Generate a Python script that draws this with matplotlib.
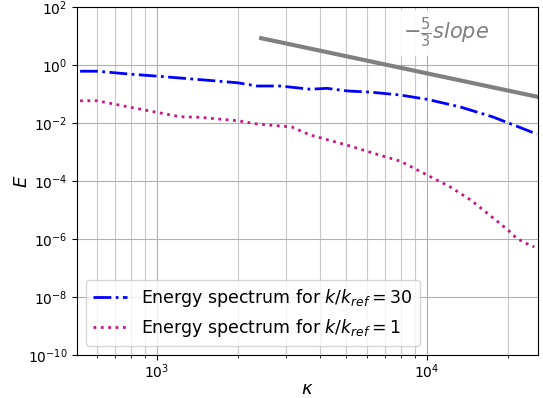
import matplotlib
matplotlib.use("Agg")
import matplotlib.pyplot as plt
import numpy as np

# wavenumbers
kappa_30 = [519, 600, 794, 1000, 1443, 1995, 2344, 2855, 3690, 4266, 5058,
            6152, 6988, 7943, 10000, 13240, 17550, 19940, 25520]
log_E_30 = [-0.21, -0.21, -0.31, -0.38, -0.50, -0.61, -0.72, -0.72, -0.83, -0.80, -0.89,
            -0.93, -0.98, -1.03, -1.18, -1.44, -1.79, -1.99, -2.38]

kappa_1 = [519, 600, 794, 1000, 1218, 1443, 1995, 2344, 2855, 3150, 3690, 5058,
           6988, 7943, 10000, 12170, 14540, 17550, 19940, 21500, 23300, 24950]
log_E_1 = [-1.23, -1.23, -1.45, -1.63, -1.78, -1.80, -1.92, -2.03, -2.10, -2.13, -2.41, -2.76,
           -3.16, -3.31, -3.79, -4.20, -4.66, -5.27, -5.69, -5.98, -6.15, -6.27]

slope_x = [2430, 25760]
slope_y = [8.5, 0.08]

E_30 = 10 ** np.array(log_E_30)
E_1 = 10 ** np.array(log_E_1)

fig, ax = plt.subplots(figsize=(5.43, 3.98), dpi=100)

ax.loglog(kappa_30, E_30, "b-.", lw=2, label=r"Energy spectrum for $k/k_{ref}=30$")
ax.loglog(kappa_1, E_1, ":", color="mediumvioletred", lw=2,
          label=r"Energy spectrum for $k/k_{ref}=1$")
ax.loglog(slope_x, slope_y, color="gray", lw=3)

ax.text(0.80, 0.975, r"$-\frac{5}{3} slope$", transform=ax.transAxes, fontsize=15,
        color="gray", ha="center", va="top",
        bbox=dict(facecolor="white", edgecolor="none", alpha=0.9))

ax.set_xlim(506, 25760)
ax.set_ylim(1e-10, 1e2)
ax.set_yticks([10.0 ** e for e in range(-10, 3, 2)])
ax.grid(True, which="major", color="#b0b0b0")
ax.grid(True, which="minor", axis="x", color="#c8c8c8")
ax.tick_params(axis="x", which="major", pad=2)
ax.set_xlabel(r"$\kappa$", fontsize=13, labelpad=-1)
ax.set_ylabel(r"$E$", fontsize=13, labelpad=-2)
ax.legend(loc="lower left", fontsize=12.5)

fig.subplots_adjust(left=0.142, right=0.991, top=0.982, bottom=0.108)
fig.savefig("out.png")
